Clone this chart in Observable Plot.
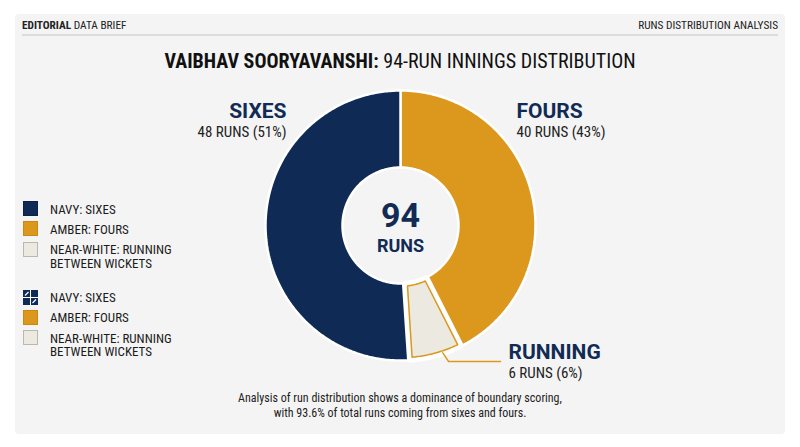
<!DOCTYPE html>
<html>
<head>
<meta charset="utf-8">
<script src="https://cdn.jsdelivr.net/npm/d3@7"></script>
<script src="https://cdn.jsdelivr.net/npm/@observablehq/plot@0.6"></script>
<style>
  html, body { margin: 0; padding: 0; background: #ffffff; }
  #root { position: relative; width: 800px; height: 447px; overflow: hidden;
          font-family: 'Roboto Condensed', Roboto, sans-serif; }
  #panel { position: absolute; left: 15px; top: 14px; width: 770px; height: 420px;
           background: #f4f4f4; border-radius: 4px; }
  .t { position: absolute; white-space: nowrap; line-height: 1; }
  #rule { position: absolute; left: 22px; top: 34px; width: 756px; height: 1.5px; background: #dcdcdc; }
  #chart { position: absolute; left: 0; top: 0; }
  .sw { position: absolute; left: 23px; width: 15px; height: 15px; box-sizing: border-box; }
</style>
</head>
<body>
<div id="root">
  <div id="panel"></div>
  <div class="t" style="left:22px; top:19.6px; font-size:11.3px; color:#222;"><b>EDITORIAL</b> DATA BRIEF</div>
  <div class="t" style="right:22px; top:19.6px; font-size:11.3px; color:#222;">RUNS DISTRIBUTION ANALYSIS</div>
  <div id="rule"></div>
  <div class="t" style="left:0; width:800px; text-align:center; top:51.2px; font-size:20px; color:#111;"><b>VAIBHAV SOORYAVANSHI:</b> 94-RUN INNINGS DISTRIBUTION</div>
  <div id="legend"></div>
  <div class="t" style="left:0; width:800px; text-align:center; top:391.4px; font-size:12px; line-height:15px; color:#222;">
    Analysis of run distribution shows a dominance of boundary scoring,<br>with 93.6% of total runs coming from sixes and fours.
  </div>
  <div id="chart"></div>
</div>
<script>
// ---------------- data ----------------
const categories = ["SIXES", "FOURS", "RUNNING"];
const runs = [48, 40, 6];
const legendLabels = [["NAVY: SIXES"], ["AMBER: FOURS"], ["NEAR-WHITE: RUNNING", "BETWEEN WICKETS"]];
const drawOrder = ["FOURS", "RUNNING", "SIXES"]; // clockwise from 12 o'clock
const centerLabel = "RUNS";

// ---------------- style ----------------
const FONT = "'Roboto Condensed', Roboto, sans-serif";
const FONT_HEAD = "Roboto, 'Roboto Condensed', sans-serif";
const palette = {SIXES: "#0f2b55", FOURS: "#db981d", RUNNING: "#ebe9e0"};
const swBorder = {SIXES: "#0a2148", FOURS: "#c98a14", RUNNING: "#b9b9b2"};
const NAVY = "#112b54", INK = "#222";

// ---------------- layout ----------------
const CX = 400, CY = 225, R_OUT = 135, R_IN = 58;
const total = d3.sum(runs);
const valueOf = c => runs[categories.indexOf(c)];
const pct = c => Math.round(valueOf(c) / total * 100);

const slices = d3.pie().sort(null).value(d => d.runs)(drawOrder.map(c => ({cat: c, runs: valueOf(c)})));

function ring(a0, a1, r0, r1, pad = 0) {
  const pts = [];
  const n = Math.max(4, Math.ceil((a1 - a0) * 80));
  const o0 = a0 + pad / r1, o1 = a1 - pad / r1;
  const i0 = a0 + pad / r0, i1 = a1 - pad / r0;
  for (let i = 0; i <= n; i++) { const a = o0 + (o1 - o0) * i / n; pts.push({x: CX + (r1 - pad) * Math.sin(a), y: CY - (r1 - pad) * Math.cos(a)}); }
  for (let i = n; i >= 0; i--) { const a = i0 + (i1 - i0) * i / n; pts.push({x: CX + (r0 + pad) * Math.sin(a), y: CY - (r0 + pad) * Math.cos(a)}); }
  return pts;
}

const marks = [];
const ordered = [...slices.filter(s => s.data.cat !== "RUNNING"), ...slices.filter(s => s.data.cat === "RUNNING")];
for (const s of ordered) {
  const isRun = s.data.cat === "RUNNING";
  marks.push(Plot.line(ring(s.startAngle, s.endAngle, R_IN, R_OUT), {
    x: "x", y: "y", curve: "linear-closed", fill: palette[s.data.cat],
    stroke: "#ffffff", strokeWidth: isRun ? 5 : 2.5, strokeLinejoin: "miter"
  }));
  if (isRun) {
    marks.push(Plot.line(ring(s.startAngle, s.endAngle, R_IN, R_OUT, 2.8), {
      x: "x", y: "y", curve: "linear-closed", fill: "none",
      stroke: palette.FOURS, strokeWidth: 1.5
    }));
    // leader line
    const a = s.startAngle + 0.37 * (s.endAngle - s.startAngle);
    const p0 = {x: CX + (R_OUT - 1) * Math.sin(a), y: CY - (R_OUT - 1) * Math.cos(a)};
    const leader = [p0, {x: p0.x + 6, y: CY + 136}, {x: CX + 100, y: CY + 136}];
    marks.push(Plot.line(leader, {x: "x", y: "y", stroke: palette.FOURS, strokeWidth: 1.4}));
  }
}

// slice labels (anchors relative to donut)
const labelPos = {
  SIXES:   {x: CX - 114, y: CY - 108, anchor: "end"},
  FOURS:   {x: CX + 116, y: CY - 108, anchor: "start"},
  RUNNING: {x: CX + 108, y: CY + 133, anchor: "start"}
};
for (const c of categories) {
  const L = labelPos[c];
  marks.push(Plot.text([c], {x: () => L.x, y: () => L.y, text: d => d, textAnchor: L.anchor, lineAnchor: "bottom",
    fontFamily: FONT_HEAD, fontSize: 21, fontWeight: 700, fill: NAVY}));
  marks.push(Plot.text([`${valueOf(c)} RUNS (${pct(c)}%)`], {x: () => L.x, y: () => L.y + 19, text: d => d, textAnchor: L.anchor, lineAnchor: "bottom",
    fontFamily: FONT, fontSize: 15, fill: INK}));
}
// center
marks.push(Plot.text([total], {x: () => CX, y: () => CY + 1, text: d => String(d), textAnchor: "middle", lineAnchor: "bottom",
  fontFamily: FONT_HEAD, fontSize: 34, fontWeight: 700, fill: NAVY}));
marks.push(Plot.text([centerLabel], {x: () => CX, y: () => CY + 26.5, text: d => d, textAnchor: "middle", lineAnchor: "bottom",
  fontFamily: FONT_HEAD, fontSize: 18, fontWeight: 700, fill: NAVY}));

const chart = Plot.plot({
  width: 800, height: 447, margin: 0,
  x: {type: "linear", domain: [0, 800], range: [0, 800], axis: null},
  y: {type: "linear", domain: [0, 447], range: [0, 447], axis: null},
  style: {background: "transparent", overflow: "visible"},
  marks
});
document.getElementById("chart").appendChild(chart);

// ---------------- legend (two groups, as in the reference) ----------------
const legend = document.getElementById("legend");
const groupTops = [201, 289.5];
groupTops.forEach((gTop, g) => {
  let top = gTop;
  categories.forEach((c, i) => {
    const sw = document.createElement("div");
    sw.className = "sw";
    sw.style.top = top + "px";
    sw.style.background = palette[c];
    sw.style.border = `1px solid ${swBorder[c]}`;
    if (g === 1 && c === "SIXES") {
      sw.style.border = "none";
      sw.innerHTML = `<svg width="15" height="15" style="display:block">
        <rect width="15" height="15" fill="${palette.SIXES}"/>
        <line x1="7.5" y1="0" x2="7.5" y2="15" stroke="#fff" stroke-width="1"/>
        <line x1="0" y1="7.5" x2="15" y2="7.5" stroke="#fff" stroke-width="1"/>
        <line x1="2" y1="5.5" x2="5.5" y2="2" stroke="#fff" stroke-width="1.2"/>
        <line x1="9.5" y1="13" x2="13" y2="9.5" stroke="#fff" stroke-width="1.2"/>
      </svg>`;
    }
    legend.appendChild(sw);
    const tx = document.createElement("div");
    tx.className = "t";
    tx.style.cssText = `left:50px; top:${top + 1.5}px; font-size:13px; line-height:13.5px; color:#1c1c1c;`;
    tx.innerHTML = legendLabels[i].join("<br>");
    legend.appendChild(tx);
    top += 20.3;
  });
});
</script>
</body>
</html>
